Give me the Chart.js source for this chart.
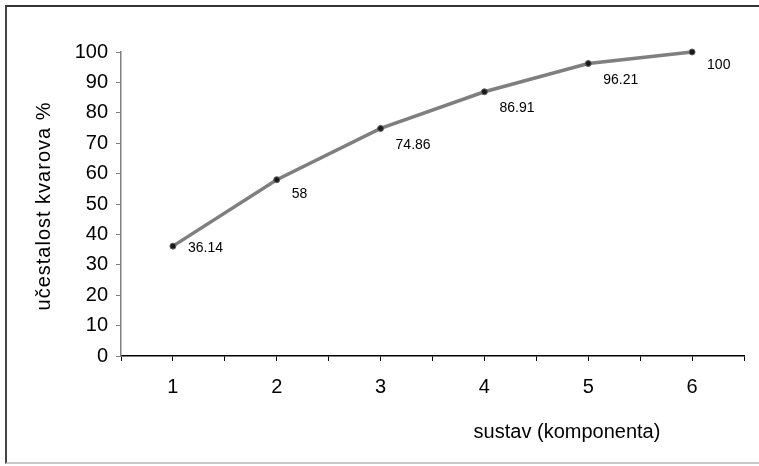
<!DOCTYPE html>
<html>
<head>
<meta charset="utf-8">
<script src="https://cdn.jsdelivr.net/npm/chart.js@4.4.1/dist/chart.umd.min.js"></script>
<style>
  html, body { margin:0; padding:0; background:#fff; }
  #wrap { position:relative; width:759px; height:466px; }
  #frame { position:absolute; left:5px; top:5px; width:754px; height:459px;
           border-left:2px solid #444; border-top:2px solid #333; border-bottom:2px solid #c8c8c8; box-sizing:border-box; }
  canvas { position:absolute; left:0; top:0; }
</style>
</head>
<body>
<div id="wrap">
  <div id="frame"></div>
  <canvas id="chart" width="759" height="466"></canvas>
</div>
<script>
// ---- data ----
const components = [1, 2, 3, 4, 5, 6];
const failurePct = [36.14, 58, 74.86, 86.91, 96.21, 100];
const yTicks     = [0, 10, 20, 30, 40, 50, 60, 70, 80, 90, 100];
const xTitleText = 'sustav (komponenta)';
const yTitleText = 'učestalost kvarova %';

const FONT = 'Arial, "Liberation Sans", sans-serif';
Chart.defaults.font.family = FONT;
Chart.defaults.color = '#000';

// value labels, right/below each point
const valueLabels = {
  id: 'valueLabels',
  afterDatasetsDraw(chart) {
    const { ctx } = chart;
    const meta = chart.getDatasetMeta(0);
    const dy = [2, 14, 17, 16, 17, 13];
    ctx.save();
    ctx.font = '14px ' + FONT;
    ctx.fillStyle = '#000';
    ctx.textAlign = 'left';
    ctx.textBaseline = 'middle';
    meta.data.forEach((p, i) => {
      ctx.fillText(String(failurePct[i]), p.x + 15, p.y + dy[i]);
    });
    ctx.restore();
  }
};

// axis titles (x title sits right of centre in the original)
const axisTitles = {
  id: 'axisTitles',
  afterDraw(chart) {
    const { ctx } = chart;
    ctx.save();
    ctx.font = '20px ' + FONT;
    ctx.fillStyle = '#000';
    ctx.textAlign = 'center';
    ctx.textBaseline = 'middle';
    ctx.fillText(xTitleText, 567, 432);
    ctx.translate(44, 206);
    ctx.rotate(-Math.PI / 2);
    ctx.letterSpacing = '1px';
    ctx.fillText(yTitleText, 0, 0);
    ctx.restore();
  }
};

new Chart(document.getElementById('chart'), {
  type: 'line',
  data: {
    datasets: [{
      data: components.map((c, i) => ({ x: c, y: failurePct[i] })),
      borderColor: '#7f7f7f',
      borderWidth: 3.5,
      pointRadius: 3,
      pointBackgroundColor: '#1a1a1a',
      pointBorderColor: '#606060',
      pointBorderWidth: 1,
      tension: 0,
      clip: false,
    }]
  },
  options: {
    responsive: false,
    animation: false,
    layout: { padding: { left: 0, top: 52, right: 15, bottom: 0 } },
    plugins: { legend: { display: false }, tooltip: { enabled: false } },
    scales: {
      x: {
        type: 'linear',
        min: 0.5, max: 6.5,
        afterFit: s => { s.height = 110; },
        afterBuildTicks: s => {
          const t = [];
          for (let v = 0.5; v <= 6.5; v += 0.5) t.push({ value: v });
          s.ticks = t;
        },
        ticks: {
          callback: v => components.includes(v) ? String(v) : '',
          font: { size: 20 }, color: '#000', padding: 14, maxRotation: 0, autoSkip: false,
        },
        grid: { drawOnChartArea: false, tickLength: 5, color: '#000' },
        border: { color: '#000', width: 1.5 },
      },
      y: {
        min: 0, max: 100,
        afterFit: s => { s.width = 121; },
        afterBuildTicks: s => { s.ticks = yTicks.map(v => ({ value: v })); },
        ticks: { font: { size: 20 }, color: '#000', padding: 8 },
        grid: { drawOnChartArea: false, tickLength: 5, color: '#808080' },
        border: { color: '#808080', width: 1.5 },
      }
    }
  },
  plugins: [valueLabels, axisTitles]
});
</script>
</body>
</html>
